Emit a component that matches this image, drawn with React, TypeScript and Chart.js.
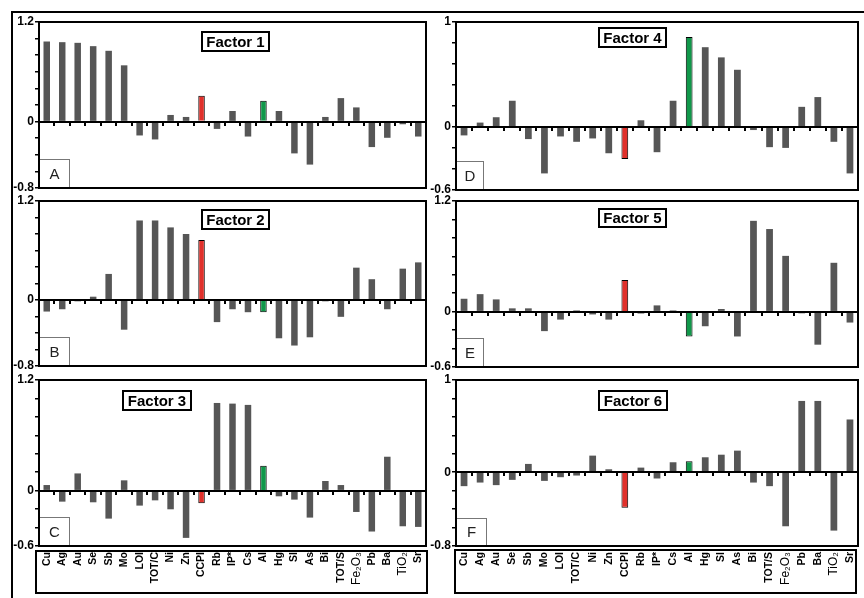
import React, { useEffect, useRef } from "react";
import { Chart, registerables } from "chart.js";

Chart.register(...registerables);

const categories = [
  "Cu", "Ag", "Au", "Se", "Sb", "Mo", "LOI", "TOT/C", "Ni", "Zn", "CCPI", "Rb", "IP*",
  "Cs", "Al", "Hg", "Sl", "As", "Bi", "TOT/S", "Fe₂O₃", "Pb", "Ba", "TiO₂", "Sr",
];

const factor1 = [0.965, 0.957, 0.949, 0.909, 0.853, 0.678, -0.167, -0.215, 0.08, 0.056, 0.311, -0.088, 0.128, -0.18, 0.251, 0.128, -0.383, -0.518, 0.056, 0.283, 0.171, -0.307, -0.195, -0.032, -0.18];
const factor2 = [-0.14, -0.112, -0.016, 0.04, 0.316, -0.36, 0.964, 0.964, 0.88, 0.8, 0.728, -0.268, -0.112, -0.148, -0.148, -0.464, -0.552, -0.452, -0.016, -0.204, 0.392, 0.252, -0.112, 0.38, 0.456];
const factor3 = [0.061, -0.119, 0.187, -0.126, -0.303, 0.112, -0.162, -0.105, -0.202, -0.512, -0.137, 0.951, 0.944, 0.93, 0.27, -0.061, -0.097, -0.292, 0.105, 0.061, -0.231, -0.443, 0.368, -0.386, -0.393];
const factor4 = [-0.08, 0.042, 0.093, 0.25, -0.115, -0.442, -0.09, -0.141, -0.109, -0.25, -0.304, 0.064, -0.24, 0.25, 0.856, 0.76, 0.663, 0.545, -0.029, -0.192, -0.199, 0.192, 0.285, -0.141, -0.442];
const factor5 = [0.14, 0.19, 0.133, 0.036, 0.036, -0.211, -0.086, 0.014, -0.03, -0.086, 0.344, -0.02, 0.068, 0.014, -0.269, -0.158, 0.029, -0.269, 0.985, 0.896, 0.605, -0.018, -0.358, 0.53, -0.118];
const factor6 = [-0.151, -0.112, -0.14, -0.083, 0.09, -0.094, -0.054, -0.036, 0.18, 0.032, -0.385, 0.05, -0.068, 0.108, 0.119, 0.162, 0.19, 0.234, -0.112, -0.151, -0.586, 0.773, 0.773, -0.633, 0.572];

const factorTitles = ["Factor 1", "Factor 2", "Factor 3", "Factor 4", "Factor 5", "Factor 6"];
const panelLetters = ["A", "B", "C", "D", "E", "F"];
const yMins = [-0.8, -0.8, -0.6, -0.6, -0.6, -0.8];
const yMaxs = [1.2, 1.2, 1.2, 1, 1.2, 1];

const SERIES = [factor1, factor2, factor3, factor4, factor5, factor6];
const RED_CAT = "CCPI";
const GREEN_CAT = "Al";

// page-coordinate layout (positions / sizes only)
const LAYOUT = [
  { l: 39, t: 22, r: 426, b: 188, title: [202, 32, 67, 19], letter: [39, 159, 31, 29] },
  { l: 39, t: 201, r: 426, b: 366, title: [202, 210, 67, 19], letter: [39, 337, 31, 29] },
  { l: 39, t: 380, r: 426, b: 546, title: [123, 391, 68, 19], letter: [39, 517, 31, 29], box: [36, 551, 391, 42] },
  { l: 456, t: 22, r: 858, b: 190, title: [599, 28, 67, 19], letter: [456, 161, 28, 29] },
  { l: 456, t: 201, r: 858, b: 367, title: [599, 209, 67, 18], letter: [456, 338, 28, 29] },
  { l: 456, t: 380, r: 858, b: 546, title: [599, 391, 68, 19], letter: [456, 518, 31, 28], box: [455, 550, 401, 43] },
];

const Y_AXIS_W = 38;
const PAD_R = 18;
const FONT = 'Arial, "Liberation Sans", Helvetica, sans-serif';

function Panel({ idx }: { idx: number }) {
  const ref = useRef<HTMLCanvasElement | null>(null);
  const L: any = LAYOUT[idx];
  const hasAxis = !!L.box;
  const ox = L.l - Y_AXIS_W;
  const oy = L.t - 12;
  const w = L.r - L.l + Y_AXIS_W + PAD_R;
  const h = L.b - L.t + (hasAxis ? 62 : 24);

  useEffect(() => {
    const values = SERIES[idx];
    const yMin = yMins[idx];
    const yMax = yMaxs[idx];
    const redI = categories.indexOf(RED_CAT);
    const greenI = categories.indexOf(GREEN_CAT);
    const bg = categories.map((_, i) => (i === redI ? "#e0302b" : i === greenI ? "#10984a" : "#565656"));
    const bc = categories.map((_, i) => (i === redI || i === greenI ? "#000" : "rgba(0,0,0,0)"));
    const bw = categories.map((_, i) => (i === redI || i === greenI ? 1 : 0));

    const decor = {
      id: "decor",
      afterDatasetsDraw(chart: any) {
        const c = chart.ctx;
        const a = chart.chartArea;
        const xs = chart.scales.x;
        const ys = chart.scales.y;
        c.save();
        c.strokeStyle = "#000";
        c.lineWidth = 2;
        const y0 = Math.round(ys.getPixelForValue(0));
        c.beginPath();
        c.moveTo(a.left, y0);
        c.lineTo(a.right, y0);
        c.stroke();
        for (let i = 1; i < categories.length; i++) {
          const bx = Math.round((xs.getPixelForValue(i - 1) + xs.getPixelForValue(i)) / 2);
          c.beginPath();
          c.moveTo(bx, y0);
          c.lineTo(bx, y0 + 4);
          c.stroke();
        }
        // letter box
        const [lx, ly, lw, lh] = L.letter;
        c.fillStyle = "#fff";
        c.fillRect(lx - ox, ly - oy, lw, lh);
        c.lineWidth = 1;
        c.strokeStyle = "#777";
        c.strokeRect(lx - ox + 0.5, ly - oy + 0.5, lw - 1, lh - 1);
        c.fillStyle = "#222";
        c.font = `15px ${FONT}`;
        c.textAlign = "center";
        c.textBaseline = "middle";
        c.fillText(panelLetters[idx], lx - ox + lw / 2, ly - oy + lh / 2 + 1);
        // frame
        c.strokeStyle = "#000";
        c.lineWidth = 2;
        c.strokeRect(a.left, a.top, a.right - a.left, a.bottom - a.top);
        // title box
        const [tx, ty, tw, th] = L.title;
        c.fillStyle = "#fff";
        c.fillRect(tx - ox, ty - oy, tw, th);
        c.strokeRect(tx - ox, ty - oy, tw, th);
        c.fillStyle = "#000";
        c.font = `bold 15px ${FONT}`;
        c.fillText(factorTitles[idx], tx - ox + tw / 2, ty - oy + th / 2 + 1);
        // category label box
        if (L.box) {
          const [bx, by, bwid, bh] = L.box;
          c.strokeRect(bx - ox, by - oy, bwid, bh);
        }
        c.restore();
      },
    };

    const chart = new Chart(ref.current as HTMLCanvasElement, {
      type: "bar",
      data: {
        labels: categories,
        datasets: [
          {
            data: values,
            backgroundColor: bg,
            borderColor: bc,
            borderWidth: bw,
            barPercentage: 0.42,
            categoryPercentage: 1,
          },
        ],
      },
      options: {
        responsive: false,
        animation: false,
        devicePixelRatio: 1,
        layout: { padding: { left: 0, right: PAD_R, top: 12, bottom: hasAxis ? 2 : 12 } },
        plugins: { legend: { display: false }, tooltip: { enabled: false }, title: { display: false } },
        scales: {
          x: {
            type: "category",
            display: hasAxis,
            offset: true,
            grid: { display: false, drawTicks: false },
            border: { display: false },
            ticks: {
              autoSkip: false,
              minRotation: 90,
              maxRotation: 90,
              padding: 6,
              color: "#000",
              font: (ctx: any) => {
                const lab = categories[ctx.index] || "";
                return /[₂₃]/.test(lab)
                  ? { family: FONT, size: 12, weight: "normal" }
                  : { family: FONT, size: 10.5, weight: "bold" };
              },
            },
            afterFit: (s: any) => {
              if (hasAxis) s.height = 48;
            },
          },
          y: {
            min: yMin,
            max: yMax,
            afterFit: (s: any) => {
              s.width = Y_AXIS_W;
            },
            ticks: {
              stepSize: 0.2,
              autoSkip: false,
              padding: 1,
              color: "#000",
              font: { family: FONT, size: 12, weight: "bold" },
              callback: (v: any) => {
                const r = Math.round(Number(v) * 10) / 10;
                if (Math.abs(r - yMin) < 1e-6 || Math.abs(r - yMax) < 1e-6 || Math.abs(r) < 1e-6) {
                  return String(r);
                }
                return "";
              },
            },
            grid: { drawOnChartArea: false, drawTicks: true, tickLength: 4, color: "#000", lineWidth: 1.5 },
            border: { display: true, color: "#000", width: 2 },
          },
        },
      },
      plugins: [decor],
    } as any);
    return () => chart.destroy();
  }, []);

  return (
    <canvas
      ref={ref}
      width={w}
      height={h}
      style={{ position: "absolute", left: ox, top: oy, width: w, height: h }}
    />
  );
}

export default function App() {
  return (
    <div style={{ position: "absolute", left: 0, top: 0, width: 864, height: 598, background: "#fff", overflow: "hidden" }}>
      <div
        style={{
          position: "absolute",
          left: 11,
          top: 11,
          width: 900,
          height: 700,
          borderTop: "2px solid #000",
          borderLeft: "2px solid #000",
        }}
      />
      {[0, 1, 2, 3, 4, 5].map((i) => (
        <Panel key={i} idx={i} />
      ))}
    </div>
  );
}
